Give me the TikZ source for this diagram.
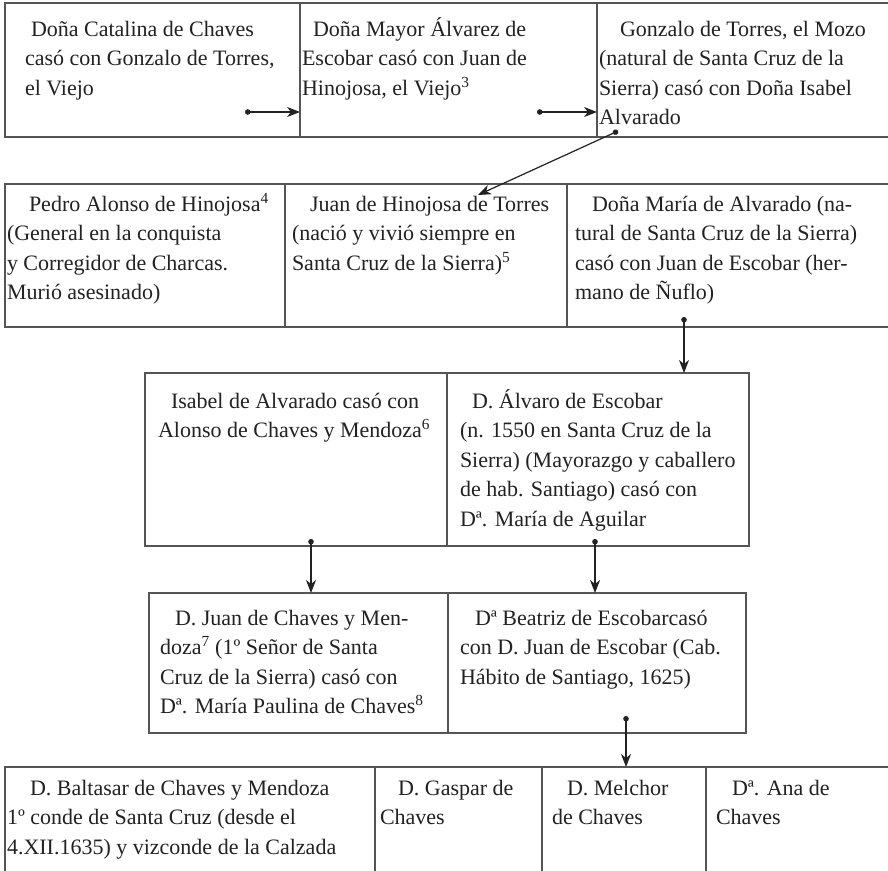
\documentclass[tikz,border=0pt]{standalone}
\usepackage{fontspec}
\setmainfont{Liberation Serif}
\usetikzlibrary{arrows.meta}
\definecolor{boxgray}{HTML}{555555}
\definecolor{inkc}{HTML}{222222}
\newcommand{\tbx}[1]{\parbox[t]{420pt}{\raggedright #1}}
\begin{document}
\begin{tikzpicture}[x=1pt,y=-1pt,
  box/.style={draw=boxgray,line width=1.3pt,rectangle,inner sep=0pt,outer sep=0pt,anchor=north west},
  txt/.style={inner sep=0pt,outer sep=0pt,anchor=base west,font=\fontsize{22}{29.5}\selectfont,text=inkc},
  link/.style={draw=inkc,line width=1.2pt,{Circle[length=5.5pt]}-{Stealth[length=13pt,width=10pt,inset=4pt]}}]
\useasboundingbox (0,0) rectangle (888,870);
\fill[white] (0,0) rectangle (888,870);
\clip (0,0) rectangle (888,870);
% row 1
\node[box,minimum width=295pt,minimum height=134pt] (A1) at (5,3) {};
\node[box,minimum width=297pt,minimum height=134pt] (A2) at (300,3) {};
\node[box,minimum width=310pt,minimum height=134pt] (A3) at (597,3) {};
% row 2
\node[box,minimum width=280pt,minimum height=143pt] (B1) at (5,184) {};
\node[box,minimum width=282pt,minimum height=143pt] (B2) at (285,184) {};
\node[box,minimum width=340pt,minimum height=143pt] (B3) at (567,184) {};
% row 3
\node[box,minimum width=302pt,minimum height=173pt] (C1) at (145,373) {};
\node[box,minimum width=302pt,minimum height=173pt] (C2) at (447,373) {};
% row 4
\node[box,minimum width=299pt,minimum height=140pt] (D1) at (149,593) {};
\node[box,minimum width=298pt,minimum height=140pt] (D2) at (448,593) {};
% row 5
\node[box,minimum width=370pt,minimum height=130pt] (E1) at (5,767) {};
\node[box,minimum width=167pt,minimum height=130pt] (E2) at (375,767) {};
\node[box,minimum width=164pt,minimum height=130pt] (E3) at (542,767) {};
\node[box,minimum width=200pt,minimum height=130pt] (E4) at (706,767) {};
% texts
\node[txt] (tA1) at (25,36) {\tbx{\hspace*{6pt}Doña Catalina de Chaves\\casó con Gonzalo de Torres,\\el Viejo}};
\node[txt] (tA2) at (302,36) {\tbx{\hspace*{11pt}Doña Mayor Álvarez de\\Escobar casó con Juan de\\Hinojosa, el Viejo\textsuperscript{3}}};
\node[txt] (tA3) at (599,36) {\tbx{\hspace*{21pt}Gonzalo de Torres, el Mozo\\(natural de Santa Cruz de la\\Sierra) casó con Doña Isabel\\Alvarado}};
\node[txt] (tB1) at (7,211) {\tbx{\hspace*{22pt}Pedro Alonso de Hinojosa\textsuperscript{4}\\(General en la conquista\\y Corregidor de Charcas.\\Murió asesinado)}};
\node[txt] (tB2) at (292,211) {\tbx{\hspace*{18pt}Juan de Hinojosa de Torres\\(nació y vivió siempre en\\Santa Cruz de la Sierra)\textsuperscript{5}}};
\node[txt] (tB3) at (575,211) {\tbx{\hspace*{17pt}Doña María de Alvarado (na-\\tural de Santa Cruz de la Sierra)\\casó con Juan de Escobar (her-\\mano de Ñuflo)}};
\node[txt] (tC1) at (158,408) {\tbx{\hspace*{13pt}Isabel de Alvarado casó con\\Alonso de Chaves y Mendoza\textsuperscript{6}}};
\node[txt] (tC2) at (460,408) {\tbx{\hspace*{12pt}D. Álvaro de Escobar\\(n. 1550 en Santa Cruz de la\\Sierra) (Mayorazgo y caballero\\de hab. Santiago) casó con\\Dª. María de Aguilar}};
\node[txt] (tD1) at (160,625) {\tbx{\hspace*{15pt}D. Juan de Chaves y Men-\\doza\textsuperscript{7} (1º Señor de Santa\\Cruz de la Sierra) casó con\\Dª. María Paulina de Chaves\textsuperscript{8}}};
\node[txt] (tD2) at (460,625) {\tbx{\hspace*{15pt}Dª Beatriz de Escobarcasó\\con D. Juan de Escobar (Cab.\\Hábito de Santiago, 1625)}};
\node[txt] (tE1) at (7,795) {\tbx{\hspace*{23pt}D. Baltasar de Chaves y Mendoza\\1º conde de Santa Cruz (desde el\\4.XII.1635) y vizconde de la Calzada}};
\node[txt] (tE2) at (380,795) {\tbx{\hspace*{18pt}D. Gaspar de\\Chaves}};
\node[txt] (tE3) at (552,795) {\tbx{\hspace*{15pt}D. Melchor\\de Chaves}};
\node[txt] (tE4) at (716,795) {\tbx{\hspace*{16pt}Dª. Ana de\\Chaves}};
% connectors
\coordinate (p1) at (245,112);
\coordinate (p2) at (537,112);
\coordinate (p3) at (618,131);
\coordinate (q3) at (478,195);
\coordinate (p4) at (684,317);
\coordinate (p5) at (311,539);
\coordinate (p6) at (595,539);
\coordinate (p7) at (626,716);
\draw[link] (p1) -- (p1 -| A2.west);
\draw[link] (p2) -- (p2 -| A3.west);
\draw[link] (p3) -- (q3);
\draw[link] (p4) -- (p4 |- C2.north);
\draw[link] (p5) -- (p5 |- D1.north);
\draw[link] (p6) -- (p6 |- D2.north);
\draw[link] (p7) -- (p7 |- E3.north);
\end{tikzpicture}
\end{document}
